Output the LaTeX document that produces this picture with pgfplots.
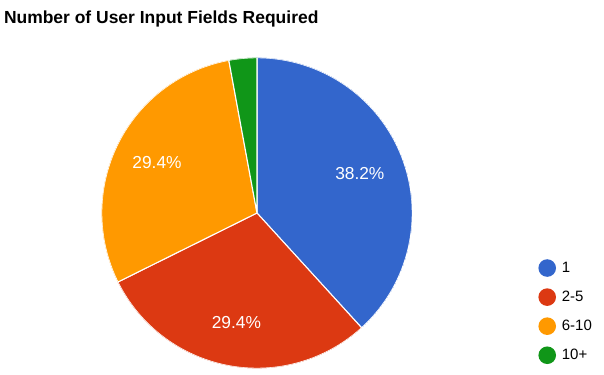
\documentclass[border=0pt]{standalone}
\usepackage{pgfplots}
\pgfplotsset{compat=1.18}
\usepgfplotslibrary{polar}
\usepackage{fontspec}
\setmainfont{Liberation Sans}
\definecolor{cA}{HTML}{3366CC}
\definecolor{cB}{HTML}{DC3912}
\definecolor{cC}{HTML}{FF9900}
\definecolor{cD}{HTML}{109618}
% slice shares (percent, as labelled)
\def\vA{38.2}\def\vB{29.4}\def\vC{29.4}\def\vD{2.9}
\pgfmathsetmacro\tot{\vA+\vB+\vC+\vD}
\pgfmathsetmacro\aS{90}
\pgfmathsetmacro\aA{\aS-360*\vA/\tot}
\pgfmathsetmacro\aB{\aA-360*\vB/\tot}
\pgfmathsetmacro\aC{\aB-360*\vC/\tot}
\pgfmathsetmacro\aD{\aC-360*\vD/\tot}
\pgfmathsetmacro\mA{(\aS+\aA)/2}
\pgfmathsetmacro\mB{(\aA+\aB)/2}
\pgfmathsetmacro\mC{(\aB+\aC)/2}
\begin{document}
\begin{tikzpicture}
\path[use as bounding box] (0,0) rectangle (453pt,281.25pt);
\node[anchor=base west, inner sep=0pt, font=\bfseries\fontsize{13.1pt}{15pt}\selectfont] at (2.8pt,263.25pt) {Number of User Input Fields Required};
\begin{polaraxis}[
  at={(192.75pt,121.5pt)}, anchor=center,
  scale only axis, width=233pt, height=233pt,
  hide axis, ymin=0, ymax=1,
  legend image code/.code={\fill[#1, draw=none] (0pt,0pt) circle (6.6pt);
     \path[draw=none, fill=none] (-6.6pt,0pt) -- (9.5pt,0pt);},
  legend style={at={(axis description cs:1.405,0.352)}, anchor=north west,
    draw=none, fill=none, inner sep=0pt, row sep=8.6pt,
    font=\fontsize{11.25pt}{13pt}\selectfont,
    nodes={inner sep=1.5pt}},
  legend cell align=left,
]
\addplot[fill=cA, draw=white, line width=0.8pt, domain=\aS:\aA, samples=90] {1} -- (axis cs:0,0) -- cycle;
\addlegendentry{1}
\addplot[fill=cB, draw=white, line width=0.8pt, domain=\aA:\aB, samples=90] {1} -- (axis cs:0,0) -- cycle;
\addlegendentry{2-5}
\addplot[fill=cC, draw=white, line width=0.8pt, domain=\aB:\aC, samples=90] {1} -- (axis cs:0,0) -- cycle;
\addlegendentry{6-10}
\addplot[fill=cD, draw=white, line width=0.8pt, domain=\aC:\aD, samples=20] {1} -- (axis cs:0,0) -- cycle;
\addlegendentry{10+}
\node[white, font=\fontsize{13pt}{15pt}\selectfont] at (axis cs:\mA,0.71) {38.2\%};
\node[white, font=\fontsize{13pt}{15pt}\selectfont] at (axis cs:\mB,0.72) {29.4\%};
\node[white, font=\fontsize{13pt}{15pt}\selectfont] at (axis cs:\mC,0.72) {29.4\%};
\end{polaraxis}
\end{tikzpicture}
\end{document}
